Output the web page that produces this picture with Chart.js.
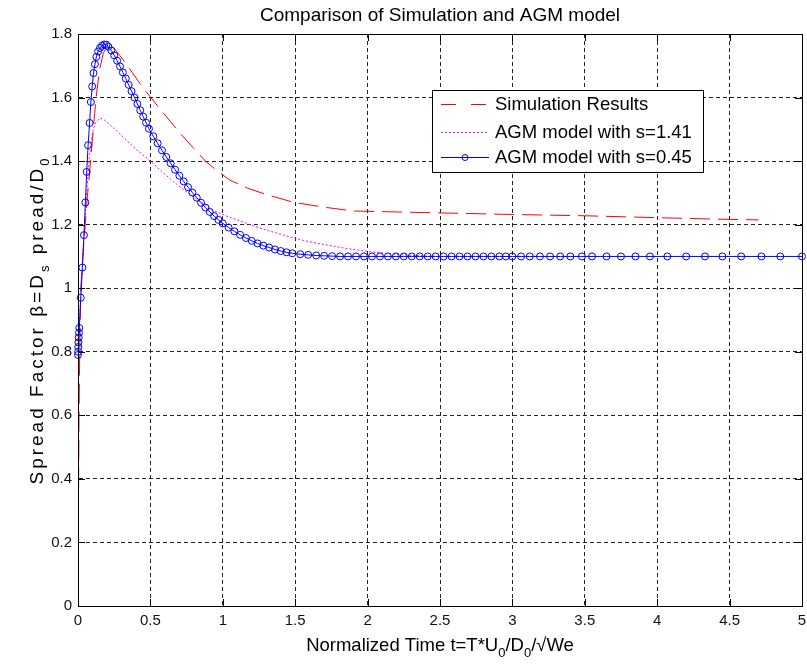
<!DOCTYPE html>
<html>
<head>
<meta charset="utf-8">
<script src="https://cdn.jsdelivr.net/npm/chart.js@4.4.0/dist/chart.umd.min.js"></script>
<style>
body{margin:0;background:#fff;}
#wrap{position:relative;width:807px;height:664px;}
</style>
</head>
<body>
<div id="wrap"><canvas id="myChart"></canvas></div>
<script>
let chartTitle = 'Comparison of Simulation and AGM model';
let xLabelParts = [['Normalized Time t=T*U', 0], ['0', 1], ['/D', 0], ['0', 1], ['/\u221AWe', 0]];
let yLabelParts = [['Spread Factor \u03B2=D', 0], ['s', 1], [' pread/D', 0], ['0', 1]];
let legendLabels = ['Simulation Results', 'AGM model with s=1.41', 'AGM model with s=0.45'];

let xTicks = [0, 0.5, 1, 1.5, 2, 2.5, 3, 3.5, 4, 4.5, 5];
let xTickLabels = ['0', '0.5', '1', '1.5', '2', '2.5', '3', '3.5', '4', '4.5', '5'];
let yTicks = [0, 0.2, 0.4, 0.6, 0.8, 1, 1.2, 1.4, 1.6, 1.8];
let yTickLabels = ['0', '0.2', '0.4', '0.6', '0.8', '1', '1.2', '1.4', '1.6', '1.8'];

// simulation results (red dashed)
let simT = [0, 0.003, 0.007, 0.012, 0.019, 0.027, 0.035, 0.05, 0.065, 0.083, 0.1, 0.115, 0.13, 0.15, 0.175,
  0.2, 0.22, 0.25, 0.31, 0.38, 0.45, 0.53, 0.61, 0.70, 0.80, 0.88, 0.96, 1.05, 1.17, 1.3, 1.49, 1.7, 1.9,
  2.2, 2.5, 3.0, 3.5, 4.0, 4.35, 4.7];
let simBeta = [0.02, 0.3, 0.6, 0.8, 0.995, 1.06, 1.11, 1.2, 1.29, 1.38, 1.47, 1.55, 1.62, 1.69, 1.74,
  1.76, 1.762, 1.755, 1.72, 1.675, 1.63, 1.585, 1.54, 1.49, 1.44, 1.40, 1.37, 1.34, 1.315, 1.295, 1.27, 1.255, 1.243,
  1.24, 1.237, 1.232, 1.228, 1.222, 1.218, 1.215];

// AGM model s=1.41 (magenta dotted)
let agm1T = [0, 0.02, 0.04, 0.06, 0.08, 0.1, 0.12, 0.15, 0.18, 0.22, 0.28, 0.34, 0.42, 0.5, 0.58, 0.66, 0.73,
  0.8, 0.87, 0.93, 1.02, 1.12, 1.2, 1.3, 1.4, 1.49, 1.6, 1.72, 1.83, 1.93, 2.05, 2.17, 2.29, 2.4, 2.5, 3.0];
let agm1Beta = [0.79, 0.98, 1.15, 1.3, 1.42, 1.49, 1.52, 1.535, 1.53, 1.515, 1.49, 1.463, 1.43, 1.40, 1.367, 1.335, 1.31,
  1.287, 1.265, 1.246, 1.228, 1.212, 1.198, 1.183, 1.17, 1.158, 1.146, 1.136, 1.127, 1.12, 1.113, 1.108, 1.104, 1.101, 1.1, 1.1];

// AGM model s=0.45 (blue with circles)
let agm2T = [0, 0.001, 0.002, 0.003, 0.005, 0.007, 0.009, 0.019, 0.030, 0.041, 0.051, 0.060,
  0.070, 0.080, 0.089, 0.098, 0.107, 0.117, 0.127, 0.139, 0.152, 0.166, 0.181, 0.196,
  0.21, 0.23, 0.25, 0.27, 0.29, 0.31, 0.33, 0.35, 0.37, 0.39, 0.41, 0.43, 0.45, 0.47, 0.49,
  0.52, 0.55, 0.58, 0.61, 0.64, 0.67, 0.70, 0.73, 0.76, 0.79, 0.82, 0.85, 0.88, 0.91, 0.94, 0.97, 1.00,
  1.04, 1.08, 1.12, 1.16, 1.20, 1.24, 1.28, 1.32, 1.36, 1.40, 1.44, 1.48,
  1.535, 1.59, 1.645, 1.70, 1.755, 1.81,
  1.865, 1.92, 1.975, 2.03, 2.085, 2.14, 2.195, 2.25, 2.305, 2.36, 2.415, 2.47, 2.525, 2.58, 2.635, 2.69, 2.745, 2.80, 2.855, 2.91, 2.955, 3.00,
  3.06, 3.12, 3.19, 3.26, 3.33, 3.40, 3.48, 3.55, 3.65, 3.75, 3.85, 3.95,
  4.07, 4.20, 4.33, 4.45, 4.58, 4.72, 4.85, 5.0];
let agm2Beta = [0.79, 0.80, 0.815, 0.83, 0.845, 0.86, 0.875, 0.97, 1.065, 1.167, 1.27, 1.366,
  1.45, 1.52, 1.586, 1.635, 1.677, 1.705, 1.728, 1.745, 1.756, 1.763, 1.767, 1.766,
  1.760, 1.748, 1.733, 1.716, 1.698, 1.679, 1.660, 1.640, 1.620, 1.600, 1.580, 1.560, 1.540, 1.521, 1.502,
  1.478, 1.456, 1.434, 1.413, 1.393, 1.373, 1.354, 1.336, 1.318, 1.301, 1.285, 1.269, 1.254, 1.240, 1.227, 1.215, 1.204,
  1.191, 1.179, 1.168, 1.158, 1.149, 1.141, 1.134, 1.128, 1.122, 1.117, 1.113, 1.110,
  1.107, 1.105, 1.103, 1.102, 1.101, 1.1,
  1.1, 1.1, 1.1, 1.1, 1.1, 1.1, 1.1, 1.1, 1.1, 1.1, 1.1, 1.1, 1.1, 1.1, 1.1, 1.1, 1.1, 1.1, 1.1, 1.1, 1.1, 1.1,
  1.1, 1.1, 1.1, 1.1, 1.1, 1.1, 1.1, 1.1, 1.1, 1.1, 1.1, 1.1,
  1.1, 1.1, 1.1, 1.1, 1.1, 1.1, 1.1, 1.1];

let fontName = '"Liberation Sans", Arial, Helvetica, sans-serif';

function to_points(xs, ys) {
  return xs.map((x, i) => ({x: x, y: ys[i]}));
}

// draws a line of text with subscripts, centred on cx
function draw_rich(ctx, parts, cx, cy, size, subSize, subShift, spacing) {
  ctx.letterSpacing = spacing + 'px';
  let total = 0;
  parts.forEach(p => {
    ctx.font = (p[1] ? subSize : size) + 'px ' + fontName;
    total += ctx.measureText(p[0]).width;
  });
  let x = cx - total / 2;
  ctx.textAlign = 'left';
  ctx.textBaseline = 'alphabetic';
  parts.forEach(p => {
    ctx.font = (p[1] ? subSize : size) + 'px ' + fontName;
    ctx.fillText(p[0], x, cy + (p[1] ? subShift : 0));
    x += ctx.measureText(p[0]).width;
  });
  ctx.letterSpacing = '0px';
}

let decorations = {
  id: 'decorations',
  afterDraw(chart) {
    let ctx = chart.ctx;
    let a = chart.chartArea;
    let xs = chart.scales.x, ys = chart.scales.y;
    ctx.save();

    // frame and inward ticks
    ctx.strokeStyle = '#000';
    ctx.lineWidth = 1;
    ctx.setLineDash([]);
    ctx.strokeRect(Math.round(a.left) + 0.5, Math.round(a.top) + 0.5, Math.round(a.right - a.left), Math.round(a.bottom - a.top));
    ctx.beginPath();
    xTicks.forEach(v => {
      let px = Math.round(xs.getPixelForValue(v)) + 0.5;
      ctx.moveTo(px, a.bottom); ctx.lineTo(px, a.bottom - 7);
      ctx.moveTo(px, a.top); ctx.lineTo(px, a.top + 7);
    });
    yTicks.forEach(v => {
      let py = Math.round(ys.getPixelForValue(v)) + 0.5;
      ctx.moveTo(a.left, py); ctx.lineTo(a.left + 7, py);
      ctx.moveTo(a.right, py); ctx.lineTo(a.right - 7, py);
    });
    ctx.stroke();

    // title
    ctx.fillStyle = '#000';
    ctx.font = '19px ' + fontName;
    ctx.textAlign = 'center';
    ctx.textBaseline = 'alphabetic';
    ctx.fillText(chartTitle, (a.left + a.right) / 2, 21);

    // axis titles
    draw_rich(ctx, xLabelParts, (a.left + a.right) / 2, 651, 18.5, 13, 6, 0);
    ctx.save();
    ctx.translate(43, (a.top + a.bottom) / 2);
    ctx.rotate(-Math.PI / 2);
    draw_rich(ctx, yLabelParts, 0, 0, 19, 13, 6, 3);
    ctx.restore();

    // legend box
    let bx = 432, by = 90, bw = 271, bh = 82;
    ctx.fillStyle = '#fff';
    ctx.fillRect(bx, by, bw, bh);
    ctx.strokeStyle = '#000';
    ctx.strokeRect(bx + 0.5, by + 0.5, bw, bh);
    let rows = [by + 14, by + 42, by + 67];
    let styles = [
      {color: '#ff0000', dash: [15, 15], marker: false},
      {color: '#ff00ff', dash: [2, 2], marker: false},
      {color: '#0000ff', dash: [], marker: true}
    ];
    legendLabels.forEach((label, i) => {
      let st = styles[i];
      let ry = Math.round(rows[i]) + 0.5;
      ctx.strokeStyle = st.color;
      ctx.setLineDash(st.dash);
      ctx.beginPath();
      ctx.moveTo(bx + 9, ry);
      ctx.lineTo(bx + 57, ry);
      ctx.stroke();
      ctx.setLineDash([]);
      if (st.marker) {
        ctx.beginPath();
        ctx.arc(bx + 33, ry, 3, 0, Math.PI * 2);
        ctx.stroke();
      }
      ctx.fillStyle = '#000';
      ctx.font = '18.5px ' + fontName;
      ctx.textAlign = 'left';
      ctx.textBaseline = 'middle';
      ctx.fillText(label, bx + 63, ry);
    });
    ctx.restore();
  }
};

let settings = {
  type: 'scatter',
  data: {
    datasets: [
      {
        label: legendLabels[0],
        data: to_points(simT, simBeta),
        showLine: true,
        borderColor: '#ff0000',
        borderWidth: 1,
        borderDash: [20, 8],
        pointRadius: 0,
        order: 3
      },
      {
        label: legendLabels[1],
        data: to_points(agm1T, agm1Beta),
        showLine: true,
        borderColor: '#ff00ff',
        borderWidth: 1,
        borderDash: [2, 2],
        pointRadius: 0,
        order: 2
      },
      {
        label: legendLabels[2],
        data: to_points(agm2T, agm2Beta),
        showLine: true,
        borderColor: '#0000ff',
        borderWidth: 1,
        pointRadius: 3.5,
        pointBorderWidth: 1,
        pointBorderColor: '#0000ff',
        pointBackgroundColor: 'rgba(0,0,0,0)',
        clip: false,
        order: 1
      }
    ]
  },
  options: {
    responsive: true,
    maintainAspectRatio: false,
    animation: false,
    layout: {
      padding: {top: 34, right: 0, left: 0, bottom: 0}
    },
    plugins: {
      legend: {display: false},
      tooltip: {enabled: false},
      title: {display: false}
    },
    scales: {
      x: {
        type: 'linear',
        min: 0,
        max: 5,
        afterBuildTicks: s => { s.ticks = xTicks.map(v => ({value: v})); },
        afterFit: s => { s.height = 58; s.paddingRight = 5; s.paddingLeft = 0; },
        ticks: {
          autoSkip: false,
          maxRotation: 0,
          padding: 6,
          color: '#111',
          font: {family: fontName, size: 15},
          callback: (v, i) => xTickLabels[i]
        },
        grid: {
          color: '#222',
          lineWidth: 1,
          drawTicks: false
        },
        border: {display: true, color: '#000', dash: [4, 3]}
      },
      y: {
        type: 'linear',
        min: 0,
        max: 1.8,
        afterBuildTicks: s => { s.ticks = yTicks.map(v => ({value: v})); },
        afterFit: s => { s.width = 78; },
        ticks: {
          padding: 6,
          color: '#111',
          font: {family: fontName, size: 15},
          callback: (v, i) => yTickLabels[i]
        },
        grid: {
          color: '#222',
          lineWidth: 1,
          drawTicks: false
        },
        border: {display: true, color: '#000', dash: [4, 3]}
      }
    }
  },
  plugins: [decorations]
};

window.onload = function () {
  window.chart = new Chart('myChart', settings);
};
</script>
</body>
</html>
